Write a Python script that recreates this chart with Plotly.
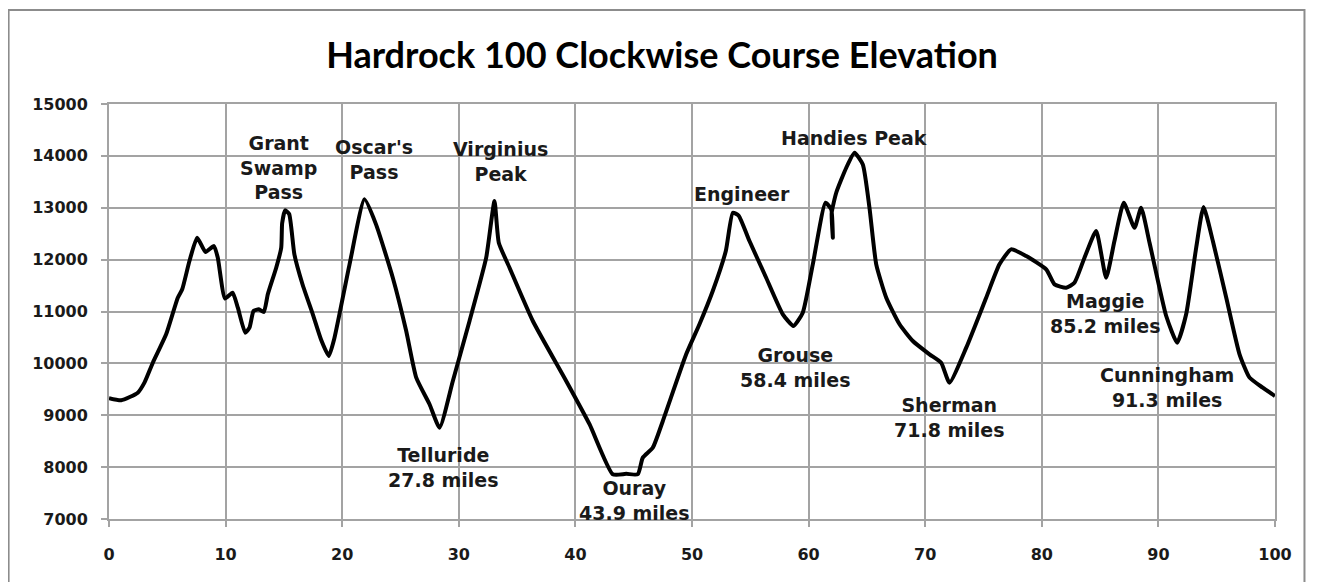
import plotly.graph_objects as go

miles = [0, 1.05, 2.47, 3.04, 3.76, 4.9, 5.9, 6.28, 6.9, 7.56, 8.28, 9.0, 9.33, 9.95,
         10.6, 11.05, 11.68, 12.05, 12.4, 12.85, 13.28, 13.62, 14.34, 14.77, 14.85,
         15.1, 15.45, 15.9, 16.6, 17.48, 18.2, 18.85, 19.34, 20.63, 21.91, 22.9, 24.34,
         25.49, 26.35, 27.49, 28.35, 29.49, 30.92, 32.35, 33.06, 33.43, 34.35, 36.35,
         39.21, 41.21, 43.2, 44.36, 45.35, 45.78, 46.64, 47.5, 49.5, 50.64, 51.78,
         52.9, 53.5, 54.0, 54.93, 56.36, 57.79, 58.7, 59.5, 60.36, 61.45, 61.94, 62.08,
         61.98, 62.37, 63.23, 63.94, 64.65, 65.22, 65.8, 66.66, 67.8, 68.94, 70.37,
         71.37, 72.08, 73.52, 75.23, 76.37, 77.37, 78.66, 80.38, 81.09, 82.09, 82.8,
         83.66, 84.66, 85.52, 86.23, 87.03, 87.95, 88.52, 89.24, 90.67, 91.61, 92.38,
         93.24, 93.87, 94.67, 95.82, 96.96, 97.82, 98.95, 100]
elevation = [9330, 9290, 9435, 9628, 10013, 10560, 11266, 11428, 11973, 12422, 12146,
             12262, 12037, 11250, 11362, 11073, 10592, 10688, 11010, 11042, 10990,
             11331, 11844, 12229, 12700, 12950, 12880, 12100, 11520, 10946, 10450,
             10143, 10495, 11909, 13162, 12680, 11651, 10624, 9725, 9212, 8761, 9661,
             10817, 12037, 13129, 12326, 11844, 10817, 9661, 8827, 7863, 7870, 7863,
             8183, 8376, 8890, 10175, 10754, 11395, 12166, 12904, 12850, 12358, 11651,
             10946, 10721, 10977, 11909, 13096, 12969, 12422, 12900, 13289, 13771,
             14060, 13836, 13000, 11909, 11266, 10754, 10432, 10175, 10013, 9628,
             10303, 11266, 11909, 12198, 12069, 11813, 11524, 11459, 11555, 12037,
             12551, 11651, 12358, 13096, 12615, 13000, 12326, 10913, 10399, 10946,
             12229, 13013, 12358, 11266, 10175, 9725, 9532, 9370]

title_text = "Hardrock 100 Clockwise Course Elevation"
x_ticks = [0, 10, 20, 30, 40, 50, 60, 70, 80, 90, 100]
y_ticks = [7000, 8000, 9000, 10000, 11000, 12000, 13000, 14000, 15000]

label_texts = ["Grant<br>Swamp<br>Pass", "Oscar's<br>Pass", "Virginius<br>Peak",
               "Engineer", "Handies Peak", "Telluride<br>27.8 miles",
               "Ouray<br>43.9 miles", "Grouse<br>58.4 miles", "Sherman<br>71.8 miles",
               "Maggie<br>85.2 miles", "Cunningham<br>91.3 miles"]
label_x = [14.5, 22.7, 33.6, 54.3, 63.9, 28.7, 45.1, 58.9, 72.1, 85.5, 90.7]
label_y = [13784, 13938, 13890, 13264, 14343, 7985, 7349, 9921, 8958, 10962, 9526]

grid = "#a3a3a3"
W, H = 1309, 574
L, T, R, B = 100.5, 96, 41.5, 63
pw, ph = W - L - R, H - T - B

fig = go.Figure()
fig.add_trace(go.Scatter(x=miles, y=elevation, mode="lines",
                         line=dict(color="black", width=4, shape="spline", smoothing=0.5),
                         hoverinfo="skip", showlegend=False))

for t, x, y in zip(label_texts, label_x, label_y):
    fig.add_annotation(x=x, y=y, text=t, showarrow=False, xanchor="center", yanchor="middle",
                       font=dict(family="DejaVu Sans", size=19, color="#1a1a1a", weight="bold"))

fig.add_shape(type="rect", xref="paper", yref="paper",
              x0=(0 - L) / pw, x1=(1297 - L) / pw,
              y0=-(620 - (H - B)) / ph, y1=((H - B) - 2) / ph,
              line=dict(color="#8c8c8c", width=2), layer="below")

fig.update_layout(
    width=W, height=H,
    margin=dict(l=L, r=R, t=T, b=B),
    paper_bgcolor="white", plot_bgcolor="white",
    title=dict(text=title_text, x=(662 - 8) / W, xanchor="center", y=1 - (55 - 8) / H,
               yanchor="middle",
               font=dict(family="Lato", size=36, color="black", weight="bold")),
    showlegend=False,
)
fig.update_xaxes(range=[0, 100], tickvals=x_ticks, showgrid=True, gridcolor=grid, gridwidth=2,
                 showline=True, linecolor=grid, linewidth=2, mirror=True, zeroline=False,
                 ticks="outside", ticklen=6, tickcolor=grid, tickwidth=2, ticklabelstandoff=14,
                 tickfont=dict(family="DejaVu Sans", size=16, color="#1a1a1a", weight="bold"))
fig.update_yaxes(range=[7000, 15000], tickvals=y_ticks, tickformat="d",
                 showgrid=True, gridcolor=grid, gridwidth=2,
                 showline=True, linecolor=grid, linewidth=2, mirror=True, zeroline=False,
                 ticks="outside", ticklen=6, tickcolor=grid, tickwidth=2, ticklabelstandoff=10,
                 tickfont=dict(family="DejaVu Sans", size=16, color="#1a1a1a", weight="bold"))

fig.write_html("out.html")
